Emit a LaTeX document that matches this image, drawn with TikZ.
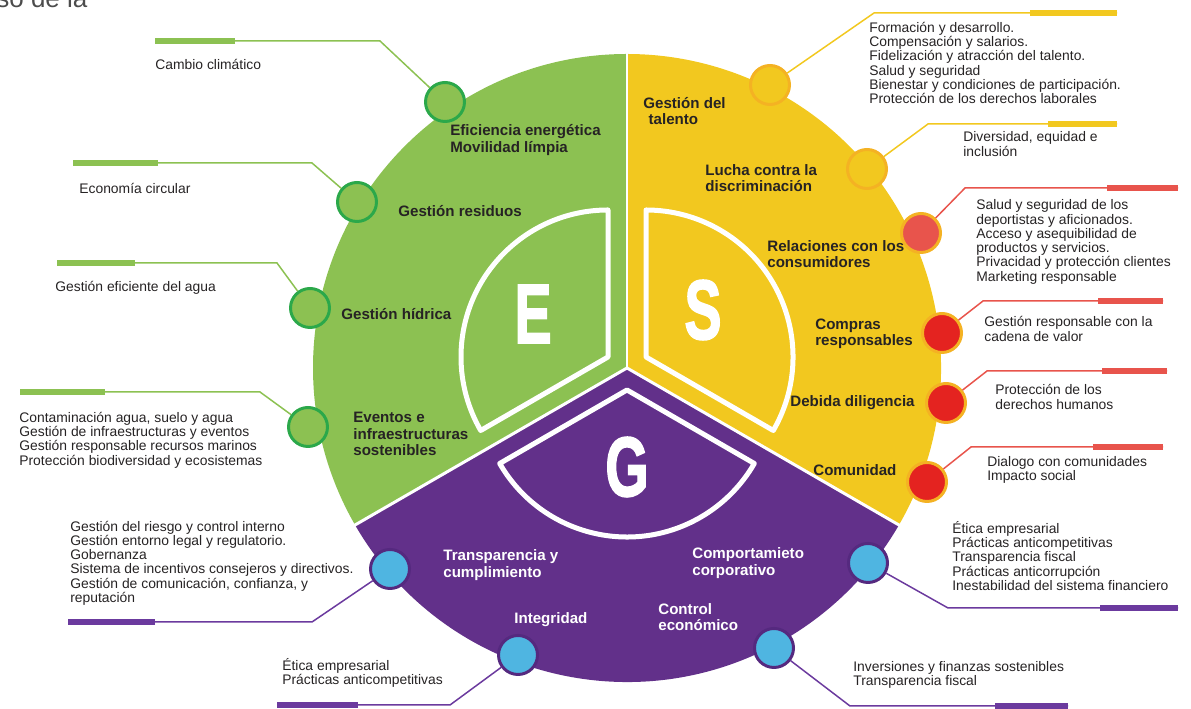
\documentclass[tikz,border=0pt]{standalone}
\usepackage{fontspec}
\setmainfont{Liberation Sans}
\newfontfamily\esgfont[FakeBold=2.2]{Liberation Sans}
\usepackage{graphicx}

\definecolor{esgGreen}{HTML}{8CC152}
\definecolor{esgGreenDark}{HTML}{2BA84A}
\definecolor{esgYellow}{HTML}{F2C81F}
\definecolor{esgOrange}{HTML}{F4B223}
\definecolor{esgRed}{HTML}{E42320}
\definecolor{esgRedLight}{HTML}{E8544C}
\definecolor{esgPurple}{HTML}{62308A}
\definecolor{esgPurpleDark}{HTML}{55297F}
\definecolor{esgPurpleLine}{HTML}{6B3A9E}
\definecolor{esgBlue}{HTML}{4FB5E1}
\definecolor{ink}{HTML}{262324}

\begin{document}
\begin{tikzpicture}[x=0.02cm,y=0.02cm,
  txt/.style={anchor=west,align=left,inner sep=0pt,text=ink,font=\fontsize{7.9}{8.1}\selectfont},
  lbl/.style={anchor=west,align=left,inner sep=0pt,text=ink,font=\bfseries\fontsize{8.6}{9.4}\selectfont},
  wlbl/.style={lbl,text=white},
  letter/.style={inner sep=0pt,text=white,font=\esgfont\bfseries\fontsize{48}{48}\selectfont},
  inner/.style={draw=white,line width=2.85pt,line join=round},
  dot/.style={circle,minimum size=0.78cm,inner sep=0pt,line width=1.7pt},
  gdot/.style={dot,draw=esgGreenDark,fill=esgGreen},
  ydot/.style={dot,draw=esgOrange,fill=esgYellow},
  rdot/.style={dot,draw=esgOrange,fill=esgRed},
  bdot/.style={dot,draw=esgPurpleDark,fill=esgBlue},
  gline/.style={draw=esgGreen,line width=0.85pt},
  yline/.style={draw=esgYellow,line width=0.85pt},
  rline/.style={draw=esgRedLight,line width=0.85pt},
  pline/.style={draw=esgPurpleLine,line width=0.85pt},
  bar/.style={line width=3.4pt}
]
\useasboundingbox (0,0) rectangle (1191,709);

% page text cut off at the top
\begin{scope}
\clip (0,0) rectangle (1191,709);
\node[anchor=base west,inner sep=0pt,text=black!70,font=\fontsize{14.8}{15}\selectfont] (hd) at (-4,701) {so de la};
\end{scope}

% the three sectors
\coordinate (C) at (627,341);
\fill[esgGreen] (C) -- ++(90:314) arc[start angle=90,end angle=210,radius=314] -- cycle;
\fill[esgYellow] (C) -- ++(-30:314) arc[start angle=-30,end angle=90,radius=314] -- cycle;
\fill[esgPurple] (C) -- ++(210:314) arc[start angle=210,end angle=330,radius=314] -- cycle;
\draw[white,line width=1.7pt] (C) -- ++(90:316);
\draw[white,line width=1.7pt] (C) -- ++(210:316);
\draw[white,line width=1.7pt] (C) -- ++(330:316);

% inner E, S, G shapes
\coordinate (Ea) at (608,352);
\coordinate (Sa) at (646,352);
\coordinate (Ga) at (627,319);
\draw[inner] (Ea) -- ++(90:147) arc[start angle=90,end angle=210,radius=147] -- cycle;
\draw[inner] (Sa) -- ++(-30:147) arc[start angle=-30,end angle=90,radius=147] -- cycle;
\draw[inner] (Ga) -- ++(210:147) arc[start angle=210,end angle=330,radius=147] -- cycle;
\node[letter] (LE) at (533,395) {\scalebox{0.66}[1]{E}};
\node[letter] (LS) at (703,399) {\scalebox{0.66}[1]{S}};
\node[letter] (LG) at (627,242) {\scalebox{0.66}[1]{G}};

% labels inside the wheel
\node[lbl] (NE1) at (450,569) {Eficiencia energética\\Movilidad límpia};
\node[lbl] (NE2) at (398,498) {Gestión residuos};
\node[lbl] (NE3) at (341,395) {Gestión hídrica};
\node[lbl] (NE4) at (353,275) {Eventos e\\infraestructuras\\sostenibles};
\node[lbl] (NS1) at (643,598) {Gestión del\\\hspace{3pt}talento};
\node[lbl] (NS2) at (705,531) {Lucha contra la\\discriminación};
\node[lbl] (NS3) at (767,455) {Relaciones con los\\consumidores};
\node[lbl] (NS4) at (815,375) {Compras\\responsables};
\node[lbl] (NS5) at (790,306) {Debida diligencia};
\node[lbl] (NS6) at (813,239) {Comunidad};
\node[wlbl] (NG1) at (443,144) {Transparencia y\\cumplimiento};
\node[wlbl] (NG2) at (692,146) {Comportamieto\\corporativo};
\node[wlbl] (NG3) at (658,92) {Control\\económico};
\node[wlbl] (NG4) at (514,89) {Integridad};

% dots on the rim
\node[gdot] (E1) at (445,607) {};
\node[gdot] (E2) at (357,507) {};
\node[gdot] (E3) at (310,401) {};
\node[gdot] (E4) at (308,282) {};
\node[ydot] (S1) at (770,624) {};
\node[ydot] (S2) at (867,540) {};
\node[rdot,fill=esgRedLight] (S3) at (921,476) {};
\node[rdot] (S4) at (942,376) {};
\node[rdot] (S5) at (946,306) {};
\node[rdot] (S6) at (927,227) {};
\node[bdot] (G1) at (390,140) {};
\node[bdot] (G2) at (518,54) {};
\node[bdot] (G3) at (868,146) {};
\node[bdot] (G4) at (774,61) {};

% leader lines
\coordinate (E1k) at (380,668); \coordinate (E1b) at (235,668); \coordinate (E1z) at (155,668);
\coordinate (E2k) at (312,546); \coordinate (E2b) at (158,546); \coordinate (E2z) at (73,546);
\coordinate (E3k) at (277,446); \coordinate (E3b) at (135,446); \coordinate (E3z) at (57,446);
\coordinate (E4k) at (260,317); \coordinate (E4b) at (105,317); \coordinate (E4z) at (20,317);
\draw[gline] (E1) -- (E1k) -- (E1z); \draw[gline,bar] (E1b) -- (E1z);
\draw[gline] (E2) -- (E2k) -- (E2z); \draw[gline,bar] (E2b) -- (E2z);
\draw[gline] (E3) -- (E3k) -- (E3z); \draw[gline,bar] (E3b) -- (E3z);
\draw[gline] (E4) -- (E4k) -- (E4z); \draw[gline,bar] (E4b) -- (E4z);

\coordinate (S1k) at (874,696); \coordinate (S1b) at (1030,696); \coordinate (S1z) at (1117,696);
\coordinate (S2k) at (928,585); \coordinate (S2b) at (1048,585); \coordinate (S2z) at (1117,585);
\coordinate (S3k) at (965,521); \coordinate (S3b) at (1107,521); \coordinate (S3z) at (1178,521);
\coordinate (S4k) at (983,408); \coordinate (S4b) at (1098,408); \coordinate (S4z) at (1163,408);
\coordinate (S5k) at (987,338); \coordinate (S5b) at (1102,338); \coordinate (S5z) at (1167,338);
\coordinate (S6k) at (971,262); \coordinate (S6b) at (1093,262); \coordinate (S6z) at (1163,262);
\draw[yline] (S1) -- (S1k) -- (S1z); \draw[yline,bar] (S1b) -- (S1z);
\draw[yline] (S2) -- (S2k) -- (S2z); \draw[yline,bar] (S2b) -- (S2z);
\draw[rline] (S3) -- (S3k) -- (S3z); \draw[rline,bar] (S3b) -- (S3z);
\draw[rline] (S4) -- (S4k) -- (S4z); \draw[rline,bar] (S4b) -- (S4z);
\draw[rline] (S5) -- (S5k) -- (S5z); \draw[rline,bar] (S5b) -- (S5z);
\draw[rline] (S6) -- (S6k) -- (S6z); \draw[rline,bar] (S6b) -- (S6z);

\coordinate (G1k) at (312,87); \coordinate (G1b) at (155,87); \coordinate (G1z) at (68,87);
\coordinate (G2k) at (450,4); \coordinate (G2b) at (358,4); \coordinate (G2z) at (277,4);
\coordinate (G3k) at (948,101); \coordinate (G3b) at (1100,101); \coordinate (G3z) at (1178,101);
\coordinate (G4k) at (850,3); \coordinate (G4b) at (995,3); \coordinate (G4z) at (1068,3);
\draw[pline] (G1) -- (G1k) -- (G1z); \draw[pline,bar] (G1b) -- (G1z);
\draw[pline] (G2) -- (G2k) -- (G2z); \draw[pline,bar] (G2b) -- (G2z);
\draw[pline] (G3) -- (G3k) -- (G3z); \draw[pline,bar] (G3b) -- (G3z);
\draw[pline] (G4) -- (G4k) -- (G4z); \draw[pline,bar] (G4b) -- (G4z);

% texts at the end of the leaders
\node[txt] (TE1) at (155,645) {Cambio climático};
\node[txt] (TE2) at (79,521) {Economía circular};
\node[txt] (TE3) at (55,421) {Gestión eficiente del agua};
\node[txt] (TE4) at (19,269) {Contaminación agua, suelo y agua\\Gestión de infraestructuras y eventos\\Gestión responsable recursos marinos\\Protección biodiversidad y ecosistemas};
\node[txt] (TS1) at (869,646) {Formación y desarrollo.\\Compensación y salarios.\\Fidelización y atracción del talento.\\Salud y seguridad\\Bienestar y condiciones de participación.\\Protección de los derechos laborales};
\node[txt] (TS2) at (963,565) {Diversidad, equidad e\\inclusión};
\node[txt] (TS3) at (976,467) {Salud y seguridad de los\\deportistas y aficionados.\\Acceso y asequibilidad de\\productos y servicios.\\Privacidad y protección clientes\\Marketing responsable};
\node[txt] (TS4) at (984,380) {Gestión responsable con la\\cadena de valor};
\node[txt] (TS5) at (995,312) {Protección de los\\derechos humanos};
\node[txt] (TS6) at (987,239) {Dialogo con comunidades\\Impacto social};
\node[txt] (TG1) at (70,146) {Gestión del riesgo y control interno\\Gestión entorno legal y regulatorio.\\Gobernanza\\Sistema de incentivos consejeros y directivos.\\Gestión de comunicación, confianza, y\\reputación};
\node[txt] (TG2) at (282,36) {Ética empresarial\\Prácticas anticompetitivas};
\node[txt] (TG3) at (952,153) {Ética empresarial\\Prácticas anticompetitivas\\Transparencia fiscal\\Prácticas anticorrupción\\Inestabilidad del sistema financiero};
\node[txt] (TG4) at (853,34) {Inversiones y finanzas sostenibles\\Transparencia fiscal};

\end{tikzpicture}
\end{document}
